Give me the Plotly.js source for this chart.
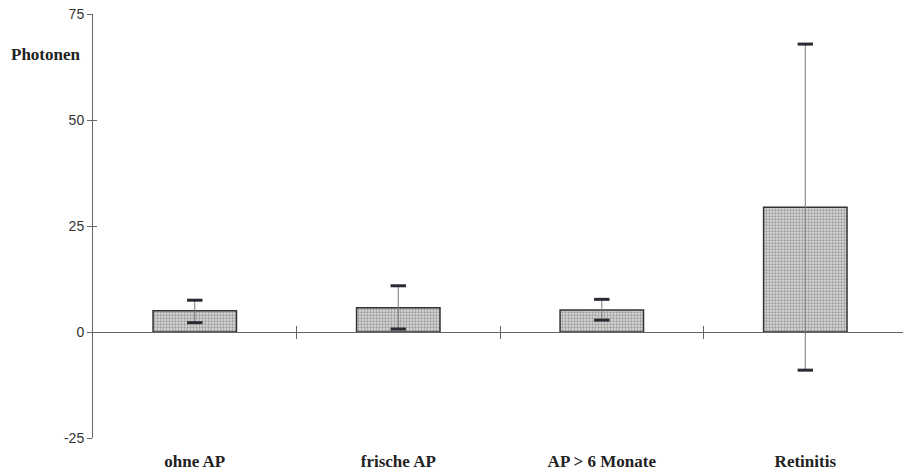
<!DOCTYPE html>
<html><head><meta charset="utf-8">
<script src="https://cdn.plot.ly/plotly-3.0.1.min.js"></script>
<style>html,body{margin:0;padding:0;background:#fff}</style>
</head><body><div id="chart" style="width:903px;height:476px"></div>
<script>
const categories = ["ohne AP", "frische AP", "AP > 6 Monate", "Retinitis"];
const values = [5.0, 5.7, 5.2, 29.4];
const errPlus = [2.5, 5.2, 2.5, 38.5];
const errMinus = [2.8, 5.0, 2.4, 38.4];
const yTicks = [-25, 0, 25, 50, 75];
const yTickText = ["-25", "0", "25", "50", "75"];
const yTitle = "Photonen";

const xpos = categories.map((c, i) => i);
const boundaries = categories.slice(1).map((c, i) => i + 0.5);
const xr = [-0.5, 3.48];
const yr = [-25, 75];
const zeroPos = (0 - yr[0]) / (yr[1] - yr[0]);

const traces = [
  {
    type: 'bar', x: xpos, y: values, width: 0.41,
    marker: {
      color: '#d2d2d2',
      line: {color: '#333', width: 1.5},
      pattern: {shape: '.', fgcolor: '#9a9a9a', bgcolor: '#dadada', size: 3, solidity: 0.45}
    },
    error_y: {type: 'data', symmetric: false, array: errPlus, arrayminus: errMinus,
      color: '#777', thickness: 1, width: 0},
    hoverinfo: 'skip', showlegend: false
  },
  {
    type: 'scatter', mode: 'markers', x: xpos.concat(xpos),
    y: values.map((v, i) => v + errPlus[i]).concat(values.map((v, i) => v - errMinus[i])),
    marker: {symbol: 'line-ew', size: 11, line: {width: 3, color: '#2a2a33'}},
    hoverinfo: 'skip', showlegend: false
  },
  {type: 'scatter', mode: 'markers', x: [null], y: [null], xaxis: 'x2', yaxis: 'y', hoverinfo: 'skip', showlegend: false},
  {type: 'scatter', mode: 'markers', x: [null], y: [null], xaxis: 'x3', yaxis: 'y', hoverinfo: 'skip', showlegend: false},
  {type: 'scatter', mode: 'markers', x: [null], y: [null], xaxis: 'x', yaxis: 'y2', hoverinfo: 'skip', showlegend: false}
];

const layout = {
  width: 903, height: 476,
  margin: {l: 93, r: 0, t: 14, b: 38},
  paper_bgcolor: '#fff', plot_bgcolor: 'rgba(0,0,0,0)',
  showlegend: false,
  xaxis: {
    range: xr, tickvals: xpos, ticktext: categories, ticks: '', showline: false,
    showgrid: false, zeroline: false, ticklabelstandoff: 11,
    tickfont: {family: 'Liberation Serif', size: 17, color: '#222', weight: 'bold'}
  },
  xaxis2: {
    overlaying: 'x', anchor: 'free', position: zeroPos, range: xr,
    tickvals: boundaries, ticks: 'outside', ticklen: 6, tickcolor: '#666', tickwidth: 1,
    showticklabels: false, showline: true, linecolor: '#666', linewidth: 1,
    showgrid: false, zeroline: false
  },
  xaxis3: {
    overlaying: 'x', anchor: 'free', position: zeroPos, range: xr,
    tickvals: boundaries, ticks: 'inside', ticklen: 6, tickcolor: '#666', tickwidth: 1,
    showticklabels: false, showline: false, showgrid: false, zeroline: false
  },
  yaxis: {
    range: yr, tickvals: yTicks, ticktext: yTickText, ticks: 'outside', ticklen: 5, tickcolor: '#666',
    showline: true, linecolor: '#666', linewidth: 1, showgrid: false, zeroline: false,
    tickfont: {family: 'Liberation Sans', size: 14, color: '#333'}
  },
  yaxis2: {
    overlaying: 'y', range: yr, tickvals: yTicks, ticks: 'inside', ticklen: 4, tickcolor: '#666',
    showticklabels: false, showline: false, showgrid: false, zeroline: false
  },
  annotations: [{
    xref: 'paper', yref: 'y', x: 0, y: 65.4, xanchor: 'right', yanchor: 'middle', xshift: -10,
    text: '<b>' + yTitle + '</b>', showarrow: false,
    font: {family: 'Liberation Serif', size: 17, color: '#222'}
  }]
};

Plotly.newPlot('chart', traces, layout, {displayModeBar: false, staticPlot: true});
</script></body></html>
